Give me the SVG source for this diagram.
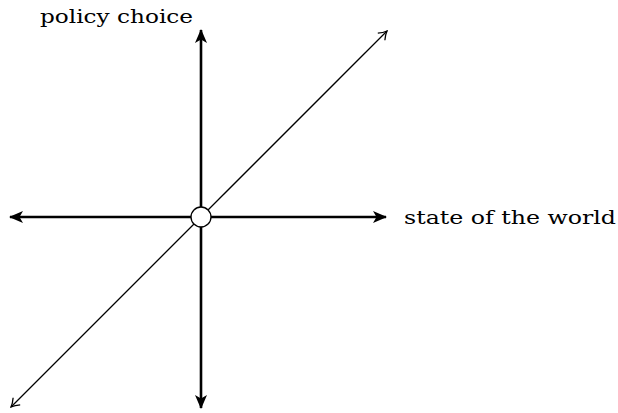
<svg xmlns="http://www.w3.org/2000/svg" width="618" height="413" viewBox="0 0 618 413">
<style>
.thick{stroke:#000;stroke-width:2.6;fill:none}
.thin{stroke:#000;stroke-width:1.3;fill:none}
.lbl{font-family:"DejaVu Serif","Liberation Serif",serif;font-size:18.5px;fill:#000}
</style>
<defs>
<marker id="stealth" viewBox="0 0 14 12" refX="13" refY="6" markerWidth="14" markerHeight="12" markerUnits="userSpaceOnUse" orient="auto-start-reverse">
<path d="M0,0 L14,6 L0,12 L3.5,6 Z" fill="#000"/>
</marker>
<marker id="open" viewBox="0 0 10 12" refX="9" refY="6" markerWidth="10" markerHeight="12" markerUnits="userSpaceOnUse" orient="auto-start-reverse">
<path d="M1,1 Q5,4.5 9,6 Q5,7.5 1,11" stroke="#000" stroke-width="1.3" fill="none"/>
</marker>
</defs>
<g id="connectors">
<line class="thin" x1="11" y1="407" x2="387" y2="31" marker-start="url(#open)" marker-end="url(#open)"/>
<line class="thick" x1="10" y1="217" x2="386" y2="217" marker-start="url(#stealth)" marker-end="url(#stealth)"/>
<line class="thick" x1="201" y1="408" x2="201" y2="30" marker-start="url(#stealth)" marker-end="url(#stealth)"/>
</g>
<g id="origin">
<circle cx="201" cy="217" r="10" fill="#fff" stroke="#000" stroke-width="1.3"/>
</g>
<g id="x-label">
<text class="lbl" x="404" y="224" textLength="212" lengthAdjust="spacingAndGlyphs">state of the world</text>
</g>
<g id="y-label">
<text class="lbl" x="40" y="23" textLength="153" lengthAdjust="spacingAndGlyphs">policy choice</text>
</g>
</svg>
